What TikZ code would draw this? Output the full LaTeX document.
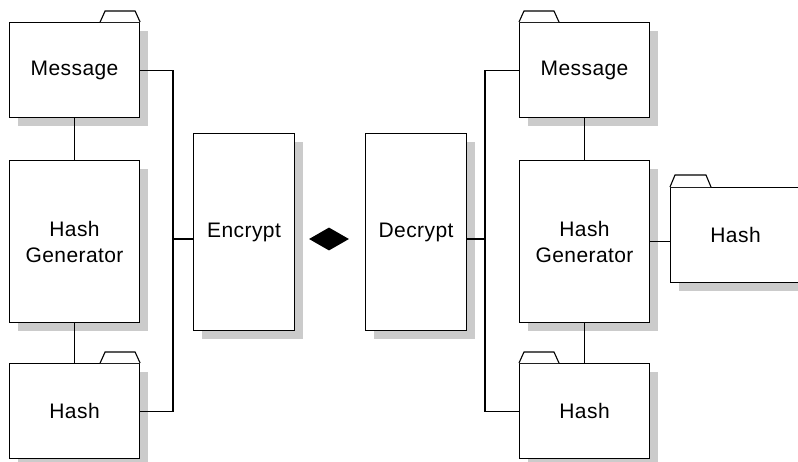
\documentclass[tikz,border=0pt]{standalone}
\usepackage{fontspec}
\setmainfont{Liberation Sans}[LetterSpace=2]
\usetikzlibrary{shapes.geometric,shadows}
\definecolor{shadowgray}{HTML}{CBCBCB}
\tikzset{
  conn/.style={line width=1.1pt, black},
  box/.style={draw=black, line width=1.1pt, fill=white, rectangle, inner sep=0pt,
    anchor=north west, align=center, font=\fontsize{21}{26}\selectfont,
    general shadow={fill=shadowgray, shadow xshift=8pt, shadow yshift=-8pt}},
  folder/.style={box, minimum width=130pt, minimum height=95pt},
  tall/.style={box, minimum width=130pt, minimum height=162pt},
  crypt/.style={box, minimum width=101pt, minimum height=197pt},
  tab/.style={draw=black, line width=1.1pt, fill=white, line join=miter},
}
\begin{document}
\begin{tikzpicture}[x=1pt, y=-1pt]
\useasboundingbox (0,0) rectangle (798,461);
\clip (0,0) rectangle (798,461);
% left column
\node[folder] (m1) at (9,22) {Message};
\draw[tab] (m1.north east) ++(-40,0) -- ++(5,-11) -- ++(30,0) -- ++(5,11);
\node[tall] (g1) at (9,160) {Hash\\Generator};
\node[folder] (h1) at (9,363) {Hash};
\draw[tab] (h1.north east) ++(-40,0) -- ++(5,-11) -- ++(30,0) -- ++(5,11);
% middle
\node[crypt] (enc) at (193,133) {Encrypt};
\node[diamond, fill=black, draw=none, minimum width=40pt, minimum height=23pt, inner sep=0pt] (dia) at (329,239) {};
\node[crypt] (dec) at (365,133) {Decrypt};
% right column
\node[folder] (m2) at (519,22) {Message};
\draw[tab] (m2.north west) -- ++(5,-11) -- ++(30,0) -- ++(5,11);
\node[tall] (g2) at (519,160) {Hash\\Generator};
\node[folder] (h2) at (519,363) {Hash};
\draw[tab] (h2.north west) -- ++(5,-11) -- ++(30,0) -- ++(5,11);
\node[folder] (h3) at (670,187) {Hash};
\draw[tab] (h3.north west) -- ++(5,-12) -- ++(31,0) -- ++(5,12);
% buses
\coordinate (busL) at (173,0);
\coordinate (busR) at (485,0);
% connectors left
\draw[conn] (m1) -- (g1);
\draw[conn] (g1) -- (h1);
\draw[conn] (m1.east) -- (m1.east -| busL) -- (h1.east -| busL) -- (h1.east);
\draw[conn] (dia -| busL) -- (dia -| enc.west);
% connectors right
\draw[conn] (m2) -- (g2);
\draw[conn] (g2) -- (h2);
\draw[conn] (m2.west) -- (m2.west -| busR) -- (h2.west -| busR) -- (h2.west);
\draw[conn] (dia -| dec.east) -- (dia -| busR);
\draw[conn] (g2.east) -- (g2.east -| h3.west);
\end{tikzpicture}
\end{document}
